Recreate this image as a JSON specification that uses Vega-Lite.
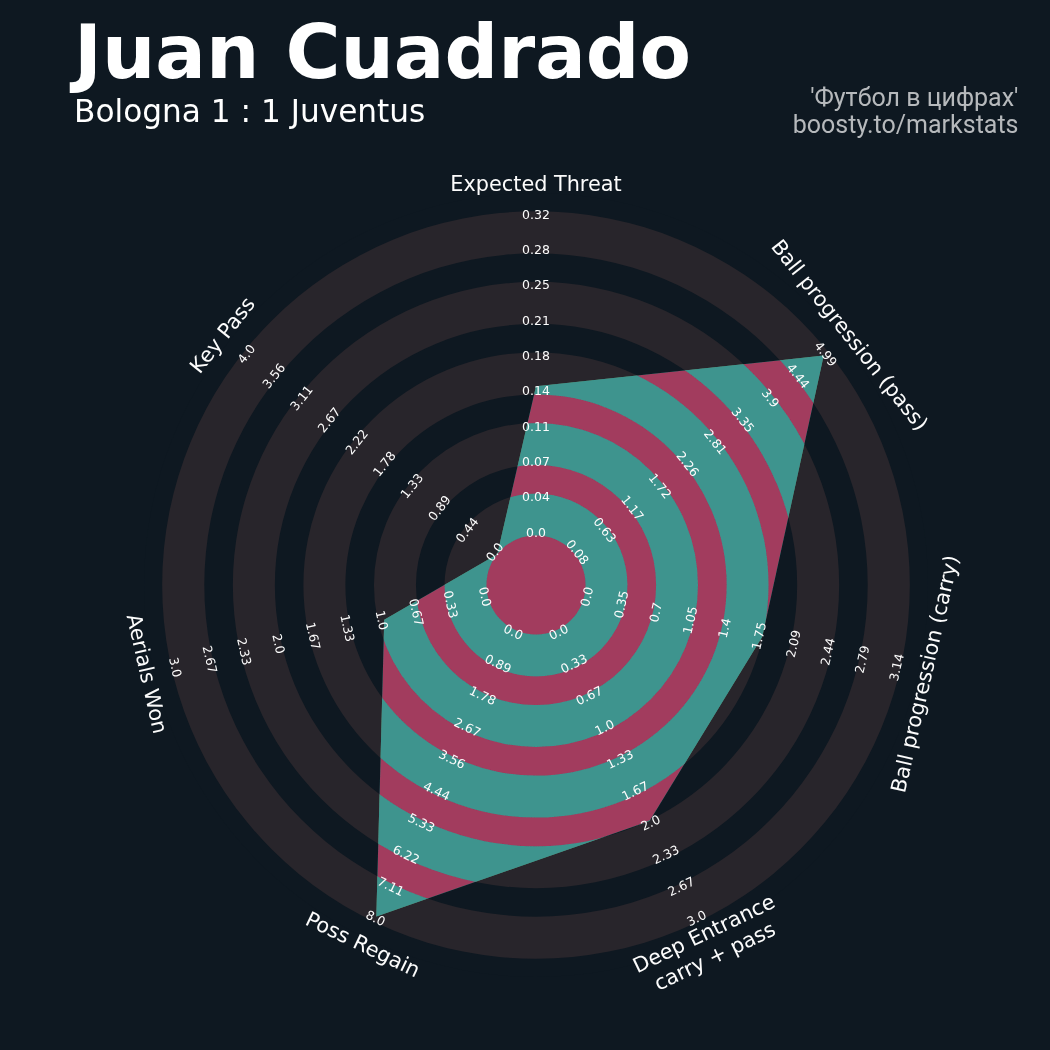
{
  "$schema": "https://vega.github.io/schema/vega-lite/v6.json",
  "width": 900,
  "height": 900,
  "autosize": {"type": "none"},
  "padding": {"left": 86, "top": 135, "right": 64, "bottom": 15},
  "background": "#0e1821",
  "config": {
    "view": {"stroke": null},
    "text": {"font": "DejaVu Sans"},
    "axisX": {"orient": "top", "domain": false, "ticks": false, "labels": false, "grid": false,
      "titleFont": "Roboto", "titleFontSize": 25, "titleFontWeight": "normal", "titleColor": "#b6b9bc",
      "titleAlign": "right", "titleAnchor": "end", "titleX": 932, "titleY": -30, "titleBaseline": "alphabetic",
      "titleLineHeight": 27, "titleAngle": 0, "titlePadding": 0}
  },
  "title": {
    "text": "Juan Cuadrado",
    "subtitle": "Bologna 1 : 1 Juventus",
    "anchor": "start",
    "frame": "group",
    "font": "DejaVu Sans",
    "fontSize": 75,
    "fontWeight": "bold",
    "color": "#ffffff",
    "subtitleFont": "DejaVu Sans",
    "subtitleFontSize": 31.2,
    "subtitleColor": "#ffffff",
    "subtitlePadding": 3,
    "offset": 6,
    "dx": -12,
    "dy": 50
  },
  "datasets": {
    "params": [
      {"idx": 0, "label": "Expected Threat", "value": 0.15, "min": 0, "max": 0.32},
      {"idx": 1, "label": "Ball progression (pass)", "value": 4.99, "min": 0.08, "max": 4.99},
      {"idx": 2, "label": "Ball progression (carry)", "value": 1.8, "min": 0, "max": 3.14},
      {"idx": 3, "label": "Deep Entrance\ncarry + pass", "value": 2, "min": 0, "max": 3},
      {"idx": 4, "label": "Poss Regain", "value": 8, "min": 0, "max": 8},
      {"idx": 5, "label": "Aerials Won", "value": 1, "min": 0, "max": 3},
      {"idx": 6, "label": "Key Pass", "value": 0, "min": 0, "max": 4}
    ],
    "ticks": [
      {"i": 0, "t": ["0.0", "0.04", "0.07", "0.11", "0.14", "0.18", "0.21", "0.25", "0.28", "0.32"]},
      {"i": 1, "t": ["0.08", "0.63", "1.17", "1.72", "2.26", "2.81", "3.35", "3.9", "4.44", "4.99"]},
      {"i": 2, "t": ["0.0", "0.35", "0.7", "1.05", "1.4", "1.75", "2.09", "2.44", "2.79", "3.14"]},
      {"i": 3, "t": ["0.0", "0.33", "0.67", "1.0", "1.33", "1.67", "2.0", "2.33", "2.67", "3.0"]},
      {"i": 4, "t": ["0.0", "0.89", "1.78", "2.67", "3.56", "4.44", "5.33", "6.22", "7.11", "8.0"]},
      {"i": 5, "t": ["0.0", "0.33", "0.67", "1.0", "1.33", "1.67", "2.0", "2.33", "2.67", "3.0"]},
      {"i": 6, "t": ["0.0", "0.44", "0.89", "1.33", "1.78", "2.22", "2.67", "3.11", "3.56", "4.0"]}
    ],
    "rings": [{"ring": 0}, {"ring": 1}, {"ring": 2}, {"ring": 3}, {"ring": 4}]
  },
  "layer": [
    {
      "data": {"values": [{"disk": "background"}]},
      "mark": {"type": "arc", "theta": 0, "theta2": 6.2832, "color": "#0e1821"},
      "encoding": {
        "radius": {"datum": 392, "type": "quantitative", "scale": {"type": "linear", "domain": [0, 450], "range": [0, 450], "zero": true, "nice": false}},
        "radius2": {"datum": 0}
      }
    },
    {
      "data": {"name": "rings"},
      "transform": [
        {"calculate": "49.5 + 70.55 * datum.ring", "as": "r0"},
        {"calculate": "datum.r0 + 42", "as": "r1"}
      ],
      "mark": {"type": "arc", "theta": 0, "theta2": 6.2832, "color": "#28252b"},
      "encoding": {
        "radius": {"field": "r1", "type": "quantitative", "scale": {"type": "linear", "domain": [0, 450], "range": [0, 450], "zero": true, "nice": false}},
        "radius2": {"field": "r0"}
      }
    },
    {
      "data": {"name": "params"},
      "transform": [
        {"calculate": "PI / 2 - datum.idx * 2 * PI / 7", "as": "theta"},
        {"calculate": "49.5 + 318.5 * (datum.value - datum.min) / (datum.max - datum.min)", "as": "r"},
        {"calculate": "datum.r * cos(datum.theta)", "as": "x"},
        {"calculate": "datum.r * sin(datum.theta)", "as": "y"}
      ],
      "mark": {"type": "line", "interpolate": "linear-closed", "filled": true, "color": "#380f0d", "fill": "#380f0d", "strokeWidth": 0, "blend": "difference"},
      "encoding": {
        "x": {"field": "x", "type": "quantitative", "scale": {"domain": [-450, 450], "nice": false, "zero": false},
          "title": ["'Футбол в цифрах'", "boosty.to/markstats"]},
        "y": {"field": "y", "type": "quantitative", "scale": {"domain": [-450, 450], "nice": false, "zero": false}, "axis": null},
        "order": {"field": "idx", "type": "quantitative"}
      }
    },
    {
      "data": {"name": "params"},
      "transform": [
        {"calculate": "PI / 2 - datum.idx * 2 * PI / 7", "as": "theta"},
        {"calculate": "49.5 + 318.5 * (datum.value - datum.min) / (datum.max - datum.min)", "as": "r"},
        {"calculate": "datum.r * cos(datum.theta)", "as": "x"},
        {"calculate": "datum.r * sin(datum.theta)", "as": "y"}
      ],
      "mark": {"type": "line", "interpolate": "linear-closed", "filled": true, "color": "#bdd9c9", "fill": "#bdd9c9", "strokeWidth": 0, "blend": "color-dodge"},
      "encoding": {
        "x": {"field": "x", "type": "quantitative", "scale": {"domain": [-450, 450], "nice": false, "zero": false},
          "title": ["'Футбол в цифрах'", "boosty.to/markstats"]},
        "y": {"field": "y", "type": "quantitative", "scale": {"domain": [-450, 450], "nice": false, "zero": false}, "axis": null},
        "order": {"field": "idx", "type": "quantitative"}
      }
    },
    {
      "data": {"name": "ticks"},
      "transform": [
        {"flatten": ["t"]},
        {"window": [{"op": "row_number", "as": "n"}], "groupby": ["i"]},
        {"calculate": "52.5 + 35.3 * (datum.n - 1)", "as": "r"},
        {"calculate": "PI / 2 - datum.i * 2 * PI / 7", "as": "theta"},
        {"calculate": "datum.r * cos(datum.theta)", "as": "x"},
        {"calculate": "datum.r * sin(datum.theta)", "as": "y"},
        {"calculate": "datum.i * 360 / 7", "as": "deg"},
        {"calculate": "datum.deg > 90 && datum.deg < 270 ? datum.deg - 180 : datum.deg", "as": "rot"}
      ],
      "mark": {"type": "text", "fontSize": 12.5, "color": "#fcfcfc", "align": "center", "baseline": "middle"},
      "encoding": {
        "x": {"field": "x", "type": "quantitative", "scale": {"domain": [-450, 450], "nice": false, "zero": false},
          "title": ["'Футбол в цифрах'", "boosty.to/markstats"]},
        "y": {"field": "y", "type": "quantitative", "scale": {"domain": [-450, 450], "nice": false, "zero": false}, "axis": null},
        "text": {"field": "t"},
        "angle": {"field": "rot", "type": "quantitative", "scale": null}
      }
    },
    {
      "data": {"name": "params"},
      "transform": [
        {"calculate": "PI / 2 - datum.idx * 2 * PI / 7", "as": "theta"},
        {"calculate": "indexof(datum.label, '\\n') >= 0 ? 388 : 400", "as": "r"},
        {"calculate": "datum.r * cos(datum.theta)", "as": "x"},
        {"calculate": "datum.r * sin(datum.theta)", "as": "y"},
        {"calculate": "datum.idx * 360 / 7", "as": "deg"},
        {"calculate": "datum.deg > 90 && datum.deg < 270 ? datum.deg - 180 : datum.deg", "as": "rot"}
      ],
      "mark": {"type": "text", "fontSize": 20.8, "color": "#fcfcfc", "align": "center", "baseline": "middle", "lineBreak": "\n", "lineHeight": 25},
      "encoding": {
        "x": {"field": "x", "type": "quantitative", "scale": {"domain": [-450, 450], "nice": false, "zero": false},
          "title": ["'Футбол в цифрах'", "boosty.to/markstats"]},
        "y": {"field": "y", "type": "quantitative", "scale": {"domain": [-450, 450], "nice": false, "zero": false}, "axis": null},
        "text": {"field": "label"},
        "angle": {"field": "rot", "type": "quantitative", "scale": null}
      }
    }
  ]
}
